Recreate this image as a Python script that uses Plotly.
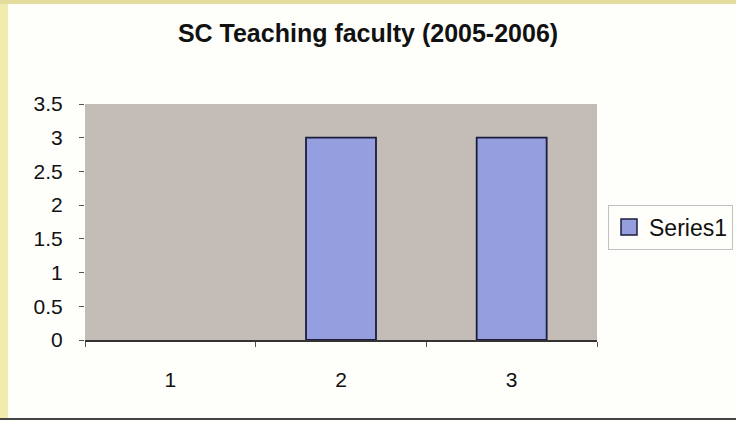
import plotly.graph_objects as go

# chart data
categories = ["1", "2", "3"]
values = [0, 3, 3]
series_name = "Series1"
title_text = "SC Teaching faculty (2005-2006)"

PW, PH = 512, 236  # plot area in pixels
BAR_COLOR = "#959fe0"
EDGE = "#1c1c3c"


def px_x(p):
    return (p - 85) / PW


def px_y(p):
    return (340 - p) / PH


fig = go.Figure()
fig.add_trace(go.Bar(x=categories, y=values, name=series_name, showlegend=False,
                     marker=dict(color=BAR_COLOR,
                                 line=dict(color=EDGE,
                                           width=[0 if v == 0 else 1.8 for v in values]))))
# legend entry with a bigger square than the default bar swatch
fig.add_trace(go.Scatter(x=[None], y=[None], mode="markers", name=series_name,
                         marker=dict(symbol="square", size=16, color=BAR_COLOR,
                                     line=dict(color=EDGE, width=1.5))))

fig.update_layout(
    width=736, height=422,
    margin=dict(l=85, r=139, t=104, b=82, autoexpand=False),
    paper_bgcolor="#fefefb",
    plot_bgcolor="#c3bcb7",
    bargap=0.59,
    font=dict(family="Liberation Sans, Arial", size=21, color="#111111"),
    title=dict(text="<b>" + title_text + "</b>", x=0.5, xanchor="center",
               y=1 - 33 / 422, yanchor="middle", font=dict(size=25)),
    showlegend=True,
    legend=dict(x=px_x(608), y=px_y(227), xanchor="left", yanchor="middle",
                bgcolor="#fefefb", bordercolor="#c0c0c0", borderwidth=1,
                font=dict(size=23), itemwidth=30),
)
fig.update_yaxes(range=[0, 3.5], dtick=0.5, ticks="outside", ticklen=5,
                 tickcolor="#555555", showgrid=False, zeroline=False,
                 showline=False, ticklabelstandoff=12)
fig.update_xaxes(type="category", tickson="boundaries", ticks="outside",
                 ticklen=5, tickcolor="#555555", showgrid=False,
                 showline=True, linecolor="#333333", linewidth=1.5,
                 ticklabelstandoff=20)

# outer frame of the scanned chart
fig.add_shape(type="rect", xref="paper", yref="paper",
              x0=px_x(0), x1=px_x(8), y0=px_y(418), y1=px_y(0),
              fillcolor="#f1ecae", line=dict(width=0), layer="below")
fig.add_shape(type="rect", xref="paper", yref="paper",
              x0=px_x(0), x1=px_x(736), y0=px_y(4), y1=px_y(0),
              fillcolor="#e3dc9c", line=dict(width=0), layer="below")
fig.add_shape(type="line", xref="paper", yref="paper",
              x0=px_x(0), x1=px_x(736), y0=px_y(419), y1=px_y(419),
              line=dict(color="#444444", width=2))

fig.write_html("out.html", config={"displayModeBar": False},
               post_script="document.body.style.margin='0';")
